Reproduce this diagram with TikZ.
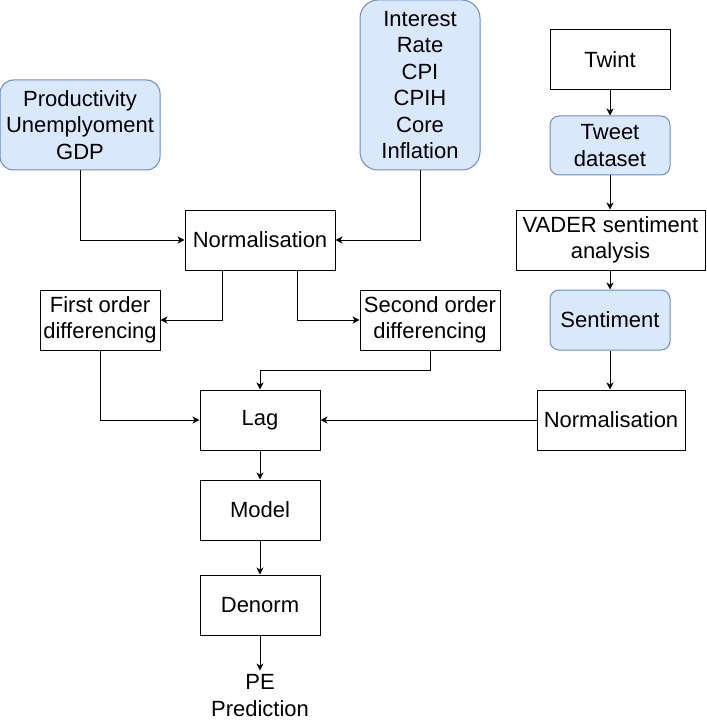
\documentclass[tikz,border=0pt]{standalone}
\usepackage{fontspec}
\setmainfont{Liberation Sans}
\usetikzlibrary{arrows.meta}
\definecolor{boxblue}{HTML}{DAE8FC}
\definecolor{edgeblue}{HTML}{6C8EBF}
\tikzset{
  stage/.style={draw=black,line width=1pt,align=center,inner sep=0pt,
    font=\fontsize{22}{26.5}\selectfont},
  source/.style={stage,draw=edgeblue,fill=boxblue,rounded corners=9pt},
  flow/.style={line width=1pt,-{Stealth[length=7pt,width=7pt,inset=2pt]}}
}
\begin{document}
\begin{tikzpicture}[x=1pt,y=-1pt]
  \useasboundingbox (0,0) rectangle (706,722);
  \node[source,rounded corners=13.5pt,minimum width=160pt,minimum height=90pt] (macro) at (80,125)
    {Productivity\\Unemplyoment\\GDP};
  \node[source,rounded corners=18pt,minimum width=120pt,minimum height=170pt] (rates) at (420,85)
    {Interest\\Rate\\CPI\\CPIH\\Core\\Inflation};
  \node[stage,minimum width=120pt,minimum height=60pt] (twint) at (610,60) {Twint};
  \node[source,minimum width=120pt,minimum height=59pt] (tweets) at (610,145.5) {Tweet\\dataset};
  \node[stage,minimum width=189pt,minimum height=60pt] (vader) at (610.5,240) {VADER sentiment\\analysis};
  \node[source,minimum width=120pt,minimum height=60pt] (sentiment) at (610,320) {Sentiment};
  \node[stage,minimum width=150pt,minimum height=60pt] (norm) at (260,240) {Normalisation};
  \node[stage,minimum width=120pt,minimum height=60pt] (first) at (100,320) {First order\\differencing};
  \node[stage,minimum width=140pt,minimum height=60pt] (second) at (430,320) {Second order\\differencing};
  \node[stage,minimum width=120pt,minimum height=60pt] (lag) at (260,420) {Lag};
  \node[stage,minimum width=148pt,minimum height=60pt] (normsent) at (611,420) {Normalisation};
  \node[stage,minimum width=120pt,minimum height=60pt] (model) at (260,510) {Model};
  \node[stage,minimum width=120pt,minimum height=60pt] (denorm) at (260,605) {Denorm};
  \node[stage,draw=none,outer sep=4pt] (pe) at (260,695.5) {PE\\Prediction};
  \draw[flow] (macro.south) |- (norm.west);
  \draw[flow] (rates.south) |- (norm.east);
  \draw[flow] ([xshift=-37.5pt]norm.south) |- (first.east);
  \draw[flow] ([xshift=37.5pt]norm.south) |- (second.west);
  \draw[flow] (first.south) |- (lag.west);
  \draw[flow] (second.south) -- ++(0,20) -| (lag.north);
  \draw[flow] (normsent.west) -- (lag.east);
  \draw[flow] (twint.south) -- (tweets.north);
  \draw[flow] (tweets.south) -- (tweets.south |- vader.north);
  \draw[flow] (tweets.south |- vader.south) -- (sentiment.north);
  \draw[flow] (sentiment.south) -- (sentiment.south |- normsent.north);
  \draw[flow] (lag.south) -- (model.north);
  \draw[flow] (model.south) -- (denorm.north);
  \draw[flow] (denorm.south) -- (pe.north);
\end{tikzpicture}
\end{document}
